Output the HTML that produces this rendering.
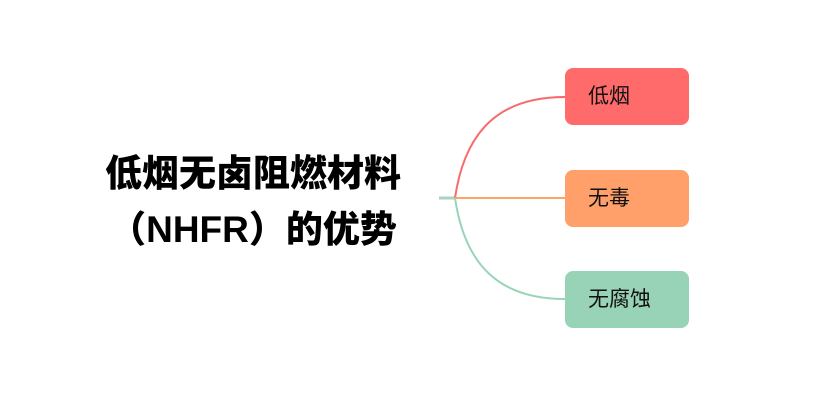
<!DOCTYPE html>
<html><head><meta charset="utf-8"><style>
html,body{margin:0;padding:0;background:#fff;}
body{width:823px;height:412px;position:relative;overflow:hidden;font-family:"Liberation Sans","Noto Sans CJK SC",sans-serif;}
.t{position:absolute;left:53px;width:400px;text-align:center;font-weight:900;font-size:37px;line-height:56px;color:#000;}
.b{position:absolute;left:565px;width:124px;height:57px;border-radius:8px;font-size:21px;line-height:57px;color:#111;box-sizing:border-box;padding-left:23px;}
</style></head><body>
<svg width="823" height="412" style="position:absolute;left:0;top:0">
<path d="M439 198 H455" stroke="#a8d5bd" stroke-width="3" fill="none"/>
<path d="M455 198 C465 130 500 97 565 97" stroke="#f76b6b" stroke-width="2" fill="none"/>
<path d="M455 198 H565" stroke="#ffa36b" stroke-width="2" fill="none"/>
<path d="M455 198 C465 266 500 299 565 299" stroke="#98d4b8" stroke-width="2" fill="none"/>
</svg>
<div class="t" style="top:146px">低烟无卤阻燃材料</div>
<div class="t" style="top:202px">（NHFR）的优势</div>
<div class="b" style="top:68px;background:#ff6b6b">低烟</div>
<div class="b" style="top:170px;background:#ffa06b">无毒</div>
<div class="b" style="top:271px;background:#98d3b7">无腐蚀</div>
</body></html>
